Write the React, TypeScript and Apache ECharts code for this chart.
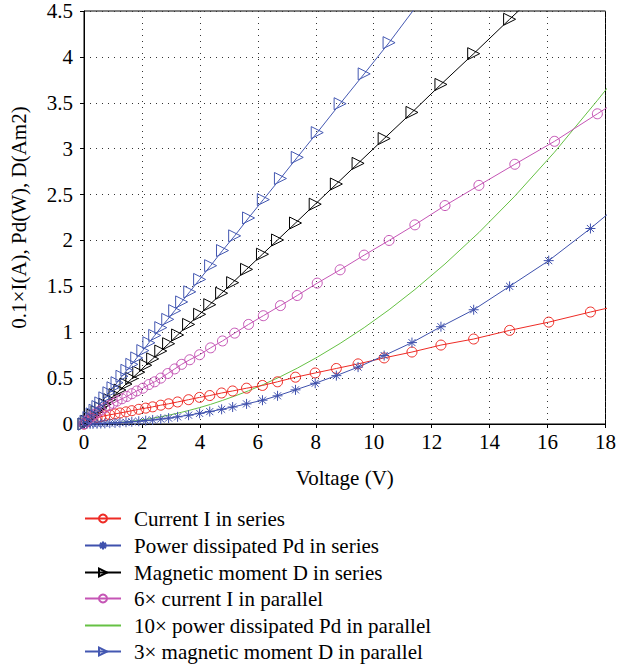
import React, { useEffect, useRef } from "react";
import * as echarts from "echarts";

// Voltage samples (V)
const seriesV = [0, 0.1, 0.21, 0.31, 0.45, 0.58, 0.72, 0.89, 1.07, 1.24, 1.45, 1.65, 1.89, 2.13, 2.37, 2.65, 2.92, 3.23, 3.61, 3.99, 4.34, 4.75, 5.13, 5.61, 6.16, 6.68, 7.3, 7.98, 8.71, 9.46, 10.36, 11.32, 12.32, 13.45, 14.69, 16.04, 17.48, 19.0];
const parallelV = [0, 0.07, 0.17, 0.28, 0.38, 0.48, 0.58, 0.72, 0.86, 1.0, 1.14, 1.31, 1.48, 1.65, 1.82, 2.03, 2.24, 2.44, 2.65, 2.89, 3.13, 3.37, 3.65, 3.99, 4.37, 4.78, 5.2, 5.68, 6.19, 6.78, 7.36, 8.05, 8.84, 9.67, 10.53, 11.42, 12.46, 13.63, 14.87, 16.24, 17.72, 19.3];

// Series values
const currentSeries = [0, 0.03, 0.045, 0.058, 0.07, 0.08, 0.09, 0.1, 0.11, 0.12, 0.132, 0.145, 0.16, 0.173, 0.187, 0.205, 0.22, 0.24, 0.265, 0.29, 0.31, 0.338, 0.36, 0.39, 0.42, 0.46, 0.51, 0.556, 0.605, 0.655, 0.72, 0.784, 0.86, 0.926, 1.02, 1.11, 1.22, 1.33];
const powerSeries = [0, 0.0003, 0.0009, 0.0018, 0.0032, 0.0046, 0.0065, 0.009, 0.012, 0.015, 0.019, 0.024, 0.03, 0.037, 0.044, 0.054, 0.064, 0.078, 0.096, 0.116, 0.135, 0.16, 0.185, 0.219, 0.259, 0.307, 0.372, 0.444, 0.527, 0.62, 0.746, 0.887, 1.06, 1.245, 1.5, 1.78, 2.13, 2.53];
const momentSeries = [0, 0.03, 0.065, 0.095, 0.135, 0.175, 0.215, 0.265, 0.32, 0.37, 0.435, 0.495, 0.565, 0.64, 0.71, 0.795, 0.875, 0.97, 1.085, 1.195, 1.3, 1.425, 1.54, 1.685, 1.85, 2.005, 2.19, 2.395, 2.615, 2.84, 3.11, 3.395, 3.7, 4.035, 4.41, 4.81, 5.24, 5.7];
const currentParallel6 = [0, 0.03, 0.06, 0.09, 0.11, 0.13, 0.15, 0.175, 0.2, 0.225, 0.25, 0.275, 0.3, 0.33, 0.36, 0.39, 0.43, 0.46, 0.5, 0.55, 0.6, 0.65, 0.7, 0.755, 0.83, 0.905, 0.99, 1.085, 1.18, 1.29, 1.4, 1.535, 1.68, 1.84, 2.0, 2.17, 2.38, 2.6, 2.83, 3.08, 3.38, 3.7];
const powerParallel10 = [0, 0, 0.0003, 0.0009, 0.0016, 0.0026, 0.0038, 0.0058, 0.0083, 0.011, 0.015, 0.019, 0.025, 0.031, 0.037, 0.046, 0.056, 0.067, 0.079, 0.094, 0.11, 0.128, 0.15, 0.179, 0.214, 0.257, 0.304, 0.362, 0.43, 0.516, 0.608, 0.728, 0.878, 1.05, 1.245, 1.465, 1.744, 2.086, 2.483, 2.962, 3.526, 4.15];
const momentParallel3 = [0, 0.03, 0.07, 0.11, 0.15, 0.19, 0.23, 0.285, 0.34, 0.395, 0.45, 0.52, 0.585, 0.65, 0.72, 0.8, 0.885, 0.965, 1.05, 1.14, 1.235, 1.33, 1.44, 1.575, 1.725, 1.89, 2.05, 2.245, 2.445, 2.675, 2.905, 3.175, 3.49, 3.815, 4.155, 4.53, 4.92];

const legendNames = [
  "Current I in series",
  "Power dissipated Pd in series",
  "Magnetic moment D in series",
  "6× current I in parallel",
  "10× power dissipated Pd in parallel",
  "3× magnetic moment D in parallel",
];

const xTicks = { min: 0, max: 18, interval: 2 };
const yTicks = { min: 0, max: 4.5, interval: 0.5 };

const FONT = "'Liberation Serif', 'DejaVu Serif', 'Times New Roman', serif";
const ASTERISK = "path://M0,-5L0,5M-5,0L5,0M-3.54,-3.54L3.54,3.54M-3.54,3.54L3.54,-3.54";
const LEGEND_TOPS = [508, 535, 562, 588, 615, 641];

function pairs(xs: number[], ys: number[]) {
  return ys.map((y, i) => [xs[i], y]);
}

function lineSeries(name: string, color: string, xs: number[], ys: number[], symbol: string, size: number, rotate = 0) {
  return {
    name,
    type: "line",
    data: pairs(xs, ys),
    symbol,
    symbolSize: size,
    symbolRotate: rotate,
    showSymbol: symbol !== "none",
    clip: true,
    lineStyle: { color, width: 1 },
    itemStyle: { color: "rgba(255,255,255,0)", borderColor: color, borderWidth: 1 },
    emphasis: { disabled: true },
  };
}

export default function App() {
  const ref = useRef<HTMLDivElement>(null);
  useEffect(() => {
    if (!ref.current) return;
    const chart = echarts.init(ref.current, undefined, { renderer: "svg" });
    const dotted = { show: true, lineStyle: { color: "#333", type: [1, 5], width: 1 } };
    chart.setOption({
      animation: false,
      backgroundColor: "#fff",
      grid: { left: 84, right: 12, top: 11, bottom: 240, show: true, borderColor: "#000", borderWidth: 1 },
      xAxis: {
        type: "value",
        ...xTicks,
        name: "Voltage (V)",
        nameLocation: "middle",
        nameGap: 43,
        nameTextStyle: { fontFamily: FONT, fontSize: 21, color: "#000" },
        axisLine: { lineStyle: { color: "#000", width: 1 } },
        axisTick: { show: true, length: 4, lineStyle: { color: "#000" } },
        axisLabel: { fontFamily: FONT, fontSize: 21, color: "#000", margin: 7 },
        splitLine: dotted,
      },
      yAxis: {
        type: "value",
        ...yTicks,
        name: "0.1×I(A), Pd(W), D(Am2)",
        nameLocation: "middle",
        nameGap: 55,
        nameTextStyle: { fontFamily: FONT, fontSize: 21, color: "#000" },
        axisLine: { show: true, lineStyle: { color: "#000", width: 1 } },
        axisTick: { show: true, length: 4, lineStyle: { color: "#000" } },
        axisLabel: { fontFamily: FONT, fontSize: 21, color: "#000", margin: 11 },
        splitLine: dotted,
      },
      legend: legendNames.map((name, i) => ({
        orient: "vertical",
        left: 84,
        top: LEGEND_TOPS[i],
        padding: 0,
        itemWidth: 36,
        itemHeight: 10,
        textStyle: { fontFamily: FONT, fontSize: 21, color: "#000", padding: [0, 0, 0, 8] },
        data: [i === 4 ? { name, itemStyle: { opacity: 0 } } : name],
      })),
      series: [
        lineSeries(legendNames[4], "#66c144", parallelV, powerParallel10, "none", 0),
        lineSeries(legendNames[0], "#ee2b25", seriesV, currentSeries, "circle", 10),
        lineSeries(legendNames[1], "#3f51ad", seriesV, powerSeries, ASTERISK, 10),
        lineSeries(legendNames[2], "#000000", seriesV, momentSeries, "triangle", 12, -90),
        lineSeries(legendNames[3], "#c555b5", parallelV, currentParallel6, "circle", 10),
        lineSeries(legendNames[5], "#4458b2", parallelV, momentParallel3, "triangle", 12, -90),
      ],
    });
    return () => chart.dispose();
  }, []);
  return <div ref={ref} style={{ position: "fixed", left: 0, top: 0, width: 619, height: 664, background: "#fff" }} />;
}
